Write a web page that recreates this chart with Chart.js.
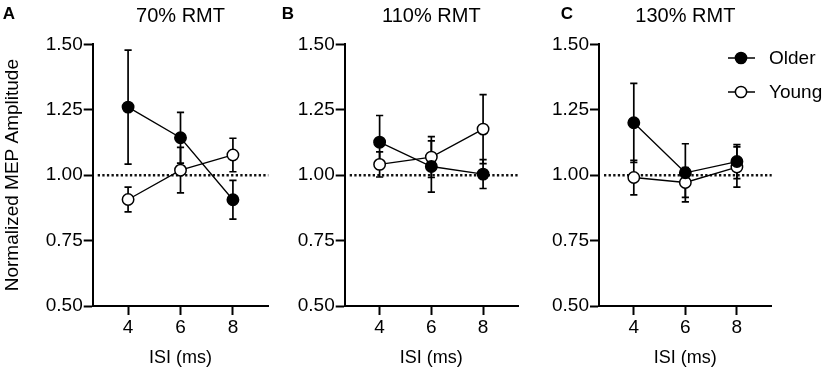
<!DOCTYPE html>
<html><head><meta charset="utf-8">
<script src="https://cdn.jsdelivr.net/npm/chart.js@4.4.1/dist/chart.umd.min.js"></script>
<style>
html,body{margin:0;padding:0;background:#fff;}
#wrap{position:relative;width:829px;height:377px;overflow:hidden;background:#fff;}
#wrap canvas{position:absolute;left:0;top:0;}
</style></head><body>
<div id="wrap">
<canvas id="cA" width="829" height="377"></canvas>
<canvas id="cB" width="829" height="377"></canvas>
<canvas id="cC" width="829" height="377"></canvas>
</div>
<script>
// ---- data ----
const isi = [4, 6, 8];
const xTicks = [4, 6, 8];
const yTicks = [0.50, 0.75, 1.00, 1.25, 1.50];
const seriesNames = ['Older', 'Young'];
const panelTitles = ['70% RMT', '110% RMT', '130% RMT'];
const panelLetters = ['A', 'B', 'C'];
const yAxisTitle = 'Normalized MEP Amplitude';
const xAxisTitle = 'ISI (ms)';
const referenceLevel = 1.0;

const older70 = [1.260, 1.143, 0.906];
const older70Err = [0.218, 0.097, 0.074];
const young70 = [0.907, 1.019, 1.077];
const young70Err = [0.047, 0.087, 0.064];

const older110 = [1.126, 1.033, 1.004];
const older110Err = [0.102, 0.098, 0.055];
const young110 = [1.041, 1.069, 1.176];
const young110Err = [0.048, 0.078, 0.132];

const older130 = [1.200, 1.009, 1.052];
const older130Err = [0.151, 0.111, 0.065];
const young130 = [0.991, 0.972, 1.031];
const young130Err = [0.066, 0.057, 0.077];

// ---- plugins ----
const FONT = "'Liberation Sans', Arial, Helvetica, sans-serif";

const decorations = {
  id: 'decorations',
  beforeDatasetsDraw(chart) {
    const {ctx, chartArea, scales: {x, y}} = chart;
    ctx.save();
    // dotted reference line
    const ry = y.getPixelForValue(referenceLevel);
    ctx.strokeStyle = '#111';
    ctx.lineWidth = 2.5;
    ctx.setLineDash([2.3, 2.3]);
    ctx.beginPath();
    ctx.moveTo(chartArea.left + 5, ry);
    ctx.lineTo(chartArea.right, ry);
    ctx.stroke();
    ctx.setLineDash([]);
    // error bars
    ctx.strokeStyle = '#000';
    ctx.lineWidth = 1.7;
    chart.data.datasets.forEach(ds => {
      ds.data.forEach((pt, i) => {
        const e = ds.errors[i];
        const px = x.getPixelForValue(pt.x);
        const t = y.getPixelForValue(pt.y + e);
        const b = y.getPixelForValue(pt.y - e);
        ctx.beginPath();
        ctx.moveTo(px, t); ctx.lineTo(px, b);
        ctx.moveTo(px - 3.6, t); ctx.lineTo(px + 3.6, t);
        ctx.moveTo(px - 3.6, b); ctx.lineTo(px + 3.6, b);
        ctx.stroke();
      });
    });
    ctx.restore();
  },
  afterDraw(chart, args, opts) {
    const {ctx} = chart;
    ctx.save();
    ctx.fillStyle = '#000';
    ctx.font = "bold 17px " + FONT;
    ctx.textAlign = 'center';
    ctx.textBaseline = 'middle';
    ctx.fillText(opts.letter, opts.lx, opts.ly);
    if (opts.legend) {
      const L = opts.legend;
      chart.data.datasets.forEach((ds, i) => {
        const cy = L.y + i * L.dy;
        ctx.strokeStyle = '#000';
        ctx.lineWidth = 1.5;
        ctx.beginPath();
        ctx.moveTo(L.x - 13, cy); ctx.lineTo(L.x + 14, cy);
        ctx.stroke();
        ctx.beginPath();
        ctx.arc(L.x, cy, 5.6, 0, Math.PI * 2);
        ctx.fillStyle = ds.pointBackgroundColor;
        ctx.fill();
        ctx.stroke();
        ctx.fillStyle = '#000';
        ctx.font = "19px " + FONT;
        ctx.textAlign = 'left';
        ctx.fillText(ds.label, L.tx, cy + 1);
      });
    }
    ctx.restore();
  }
};

function makeDataset(label, vals, errs, fill) {
  return {
    label: label,
    data: isi.map((v, i) => ({x: v, y: vals[i]})),
    errors: errs,
    borderColor: '#000',
    borderWidth: 1.3,
    pointRadius: 5.7,
    pointHoverRadius: 5.7,
    pointBackgroundColor: fill,
    pointBorderColor: '#000',
    pointBorderWidth: 1.5,
    tension: 0,
    clip: false
  };
}

function makeChart(id, idx, older, olderErr, young, youngErr, lay) {
  return new Chart(document.getElementById(id), {
    type: 'line',
    data: {
      datasets: [
        makeDataset(seriesNames[0], older, olderErr, '#000'),
        makeDataset(seriesNames[1], young, youngErr, '#fff')
      ]
    },
    options: {
      responsive: false,
      animation: false,
      devicePixelRatio: 1,
      layout: {padding: {left: lay.pl, right: lay.pr, top: 0, bottom: 0}},
      plugins: {
        legend: {display: false},
        tooltip: {enabled: false},
        title: {
          display: true,
          text: panelTitles[idx],
          fullSize: false,
          color: '#000',
          font: {family: FONT, size: 20, weight: 'normal'},
          padding: {top: 4.5, bottom: 15.8}
        },
        decorations: {letter: panelLetters[idx], lx: lay.lx, ly: lay.ly, legend: lay.legend}
      },
      scales: {
        x: {
          type: 'linear',
          min: 2.65, max: 9.35,
          afterBuildTicks: s => { s.ticks = xTicks.map(v => ({value: v})); },
          afterFit: s => { s.height = 71; },
          grid: {display: true, drawOnChartArea: false, drawTicks: true, tickLength: 9, tickWidth: 2, tickColor: '#000'},
          border: {display: true, color: '#000', width: 2},
          ticks: {color: '#000', font: {family: FONT, size: 19}, padding: 1, maxRotation: 0},
          title: {display: true, text: xAxisTitle, color: '#000', font: {family: FONT, size: 18}, padding: {top: 0, bottom: 8}}
        },
        y: {
          type: 'linear',
          min: 0.5, max: 1.5,
          afterBuildTicks: s => { s.ticks = yTicks.map(v => ({value: v})); },
          afterFit: s => { s.width = lay.yw; },
          grid: {display: true, drawOnChartArea: false, drawTicks: true, tickLength: 9, tickWidth: 2, tickColor: '#000'},
          border: {display: true, color: '#000', width: 2},
          ticks: {color: '#000', font: {family: FONT, size: 19}, padding: 1, callback: v => Number(v).toFixed(2)},
          title: {display: lay.ytitle, text: yAxisTitle, color: '#000', font: {family: FONT, size: 19}, padding: {top: 1, bottom: 0}}
        }
      }
    },
    plugins: [decorations]
  });
}

makeChart('cA', 0, older70, older70Err, young70, young70Err,
  {pl: 0, yw: 92.7, pr: 560.7, ytitle: true, lx: 9, ly: 14});
makeChart('cB', 1, older110, older110Err, young110, young110Err,
  {pl: 280, yw: 64.7, pr: 311, ytitle: false, lx: 288, ly: 14});
makeChart('cC', 2, older130, older130Err, young130, young130Err,
  {pl: 539, yw: 60, pr: 57.3, ytitle: false, lx: 567, ly: 14,
   legend: {x: 741, y: 58, dy: 34, tx: 769}});
</script>
</body></html>
